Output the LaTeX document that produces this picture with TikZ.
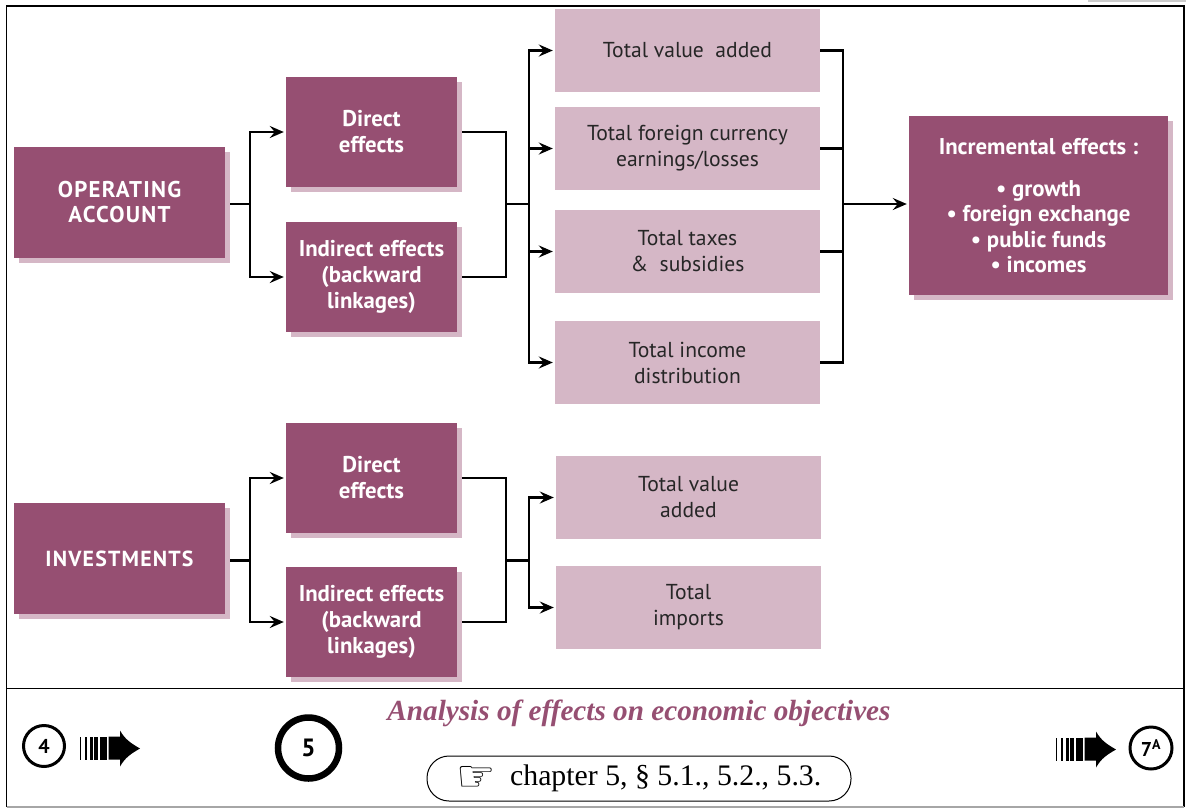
\documentclass[tikz,border=0pt]{standalone}
\usepackage{fontspec}
\setmainfont{Liberation Serif}
\setsansfont{PT Sans}
\newfontfamily\symfont{DejaVu Sans}
\usepackage{tikz}
\usetikzlibrary{positioning}
\usetikzlibrary{shadows}
\usetikzlibrary{arrows.meta}
\definecolor{plum}{HTML}{964F72}
\definecolor{paleplum}{HTML}{D5B7C6}
\newcommand{\spaced}[1]{{\addfontfeatures{LetterSpace=5.5}#1}}
\tikzset{
  darkbox/.style={
    fill=plum,
    text=white,
    align=center,
    font=\sffamily\bfseries\fontsize{22.8}{26}\selectfont,
    general shadow={shadow xshift=5pt,shadow yshift=-5pt,fill=paleplum}
  },
  effectbox/.style={darkbox, minimum width=171pt, minimum height=110pt},
  rootbox/.style={darkbox, minimum width=211pt, minimum height=111pt},
  totalbox/.style={
    fill=paleplum,
    text=black!85,
    align=center,
    minimum width=265pt,
    minimum height=83pt,
    font=\sffamily\fontsize{21.6}{26}\selectfont
  },
  link/.style={line width=2.2pt},
  arrowlink/.style={link, -{Stealth[length=14pt,width=12pt,inset=5pt]}, shorten >=2pt},
  stepmark/.style={circle, draw, text=black, inner sep=0pt, font=\sffamily\bfseries},
  stripes/.pic={
    \foreach \a/\b in {0/1.3,5/7,9.5/12.5,14/18,20/26.7}
      \fill (\a,-11) rectangle (\b,12);
    \fill (28.5,-11) -- (40,-11) -- (40,18) to[out=-60,in=150] (60,0) to[out=-150,in=60] (40,-18) -- (40,12) -- (28.5,12) -- cycle;
  }
}

\begin{document}
\begin{tikzpicture}[x=1pt,y=1pt]
        \useasboundingbox (0,0) rectangle (1186,-809);
        \fill [black!20] (1088,0) rectangle (1186,-1.5);
        \draw [line width=1.5pt] (6.5,-807) -- (6.5,-6) -- (1184,-6) -- (1184,-807);
        \draw [line width=1.2pt, black!35] (6.5,-807) -- (1184,-807);
        \draw [line width=1.5pt] (6.5,-688.5) to (1184,-688.5);
        % operating account
        \node [rootbox, font=\sffamily\bfseries\fontsize{22.8}{25}\selectfont] at (119.5,-202.5) (OpAcct) {\spaced{OPERATING}\\\spaced{ACCOUNT}};
        \node [on grid, effectbox, above right=70.5pt and 252pt of OpAcct] (DirOp) {Direct\\effects};
        \node [on grid, effectbox, below=145pt of DirOp] (IndOp) {Indirect effects\\(backward\\linkages)};
        \node [on grid, totalbox, above right=81.5pt and 316pt of DirOp] (ValOp) {Total value\ \ added};
        \node [on grid, totalbox, below=98pt of ValOp] (CurOp) {Total foreign currency\\earnings/losses};
        \node [on grid, totalbox, below=103pt of CurOp] (TaxOp) {Total taxes\\\&\ \ subsidies};
        \node [on grid, totalbox, below=111pt of TaxOp] (IncOp) {Total income\\distribution};
        \node [on grid, darkbox, below right=57pt and 351pt of CurOp, minimum width=259pt, minimum height=179pt, font=\sffamily\bfseries\fontsize{22.8}{25.4}\selectfont] (Gains) {Incremental effects :\\[16.5pt]\textbullet\ growth\\\textbullet\ foreign exchange\\\textbullet\ public funds\\\textbullet\ incomes};
        % investments
        \node [on grid, rootbox, below=356pt of OpAcct, font=\sffamily\bfseries\fontsize{21.8}{26}\selectfont] (Invest) {\spaced{INVESTMENTS}};
        \node [on grid, effectbox, above right=80.5pt and 252pt of Invest] (DirInv) {Direct\\effects};
        \node [on grid, effectbox, below=144pt of DirInv] (IndInv) {Indirect effects\\(backward\\linkages)};
        \node [on grid, totalbox, below right=19.5pt and 317pt of DirInv] (ValInv) {Total value\\added};
        \node [on grid, totalbox, below=110pt of ValInv] (ImpInv) {Total\\imports};
        % forks and buses
        \coordinate [on grid, below right=1.5pt and 130.5pt of OpAcct] (OpFork);
        \coordinate [on grid, right=256pt of OpFork] (OpMerge);
        \coordinate [on grid, right=23pt of OpMerge] (OpBus);
        \coordinate [on grid, right=314pt of OpBus] (OpJoin);
        \coordinate [on grid, below right=2pt and 130.5pt of Invest] (InvFork);
        \coordinate [on grid, right=256pt of InvFork] (InvMerge);
        \coordinate [on grid, right=23pt of InvMerge] (InvBus);
        % links
        \draw [link] ([xshift=5pt,yshift=-1.5pt]OpAcct.east) to (OpFork);
        \draw [arrowlink] (OpFork) |- (DirOp);
        \draw [arrowlink] (OpFork) |- (IndOp);
        \draw [link] ([xshift=5pt]DirOp.east) -| (OpMerge);
        \draw [link] ([xshift=5pt]IndOp.east) -| (OpMerge);
        \draw [link] (OpMerge) to (OpBus);
        \draw [arrowlink] (OpBus) |- (ValOp);
        \draw [arrowlink] (OpBus) |- (CurOp);
        \draw [arrowlink] (OpBus) |- (TaxOp);
        \draw [arrowlink] (OpBus) |- (IncOp);
        \draw [link] (ValOp) -| (OpJoin);
        \draw [link] (CurOp) -| (OpJoin);
        \draw [link] (TaxOp) -| (OpJoin);
        \draw [link] (IncOp) -| (OpJoin);
        \draw [arrowlink] (OpJoin) to (OpJoin -| Gains.west);
        \draw [link] ([xshift=5pt,yshift=-2pt]Invest.east) to (InvFork);
        \draw [arrowlink] (InvFork) |- (DirInv);
        \draw [arrowlink] (InvFork) |- (IndInv);
        \draw [link] ([xshift=5pt]DirInv.east) -| (InvMerge);
        \draw [link] ([xshift=5pt]IndInv.east) -| (InvMerge);
        \draw [link] (InvMerge) to (InvBus);
        \draw [arrowlink] (InvBus) |- (ValInv);
        \draw [arrowlink] (InvBus) |- (ImpInv);
        % footer
        \node [stepmark, line width=3pt, minimum size=41pt, font=\sffamily\bfseries\fontsize{20}{22}\selectfont] at (44,-746) (PrevStep) {4};
        \node [stepmark, line width=6.5pt, minimum size=61pt, font=\sffamily\bfseries\fontsize{25}{28}\selectfont] at (308.5,-748) (ThisStep) {5};
        \node [stepmark, line width=3pt, minimum size=42pt, font=\sffamily\bfseries\fontsize{20}{22}\selectfont] at (1151,-748) (NextStep) {7\textsuperscript{A}};
        \pic at (80,-748.5) {stripes};
        \pic at (1056,-749.5) {stripes};
        \node at (639,-713) (Title) {\textcolor{plum}{\fontsize{29.2}{32}\selectfont\bfseries\itshape Analysis of effects on economic objectives}};
        \node [draw, line width=1pt, rounded corners=22pt, minimum width=424pt, minimum height=45pt, inner ysep=0pt] at (639,-778.5) (Source) {\fontsize{29.8}{32}\selectfont\raisebox{-6pt}{\symfont\fontsize{44}{44}\selectfont\char"261E}\hspace{14pt}chapter 5, \S\ 5.1., 5.2., 5.3.};
      \end{tikzpicture}
\end{document}
